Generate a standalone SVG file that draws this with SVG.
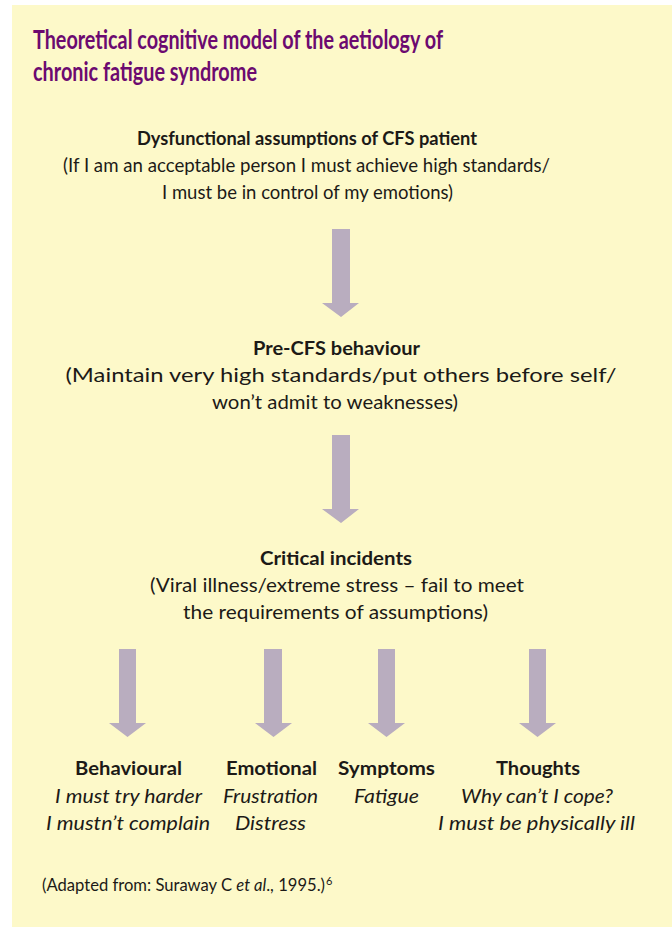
<svg xmlns="http://www.w3.org/2000/svg" width="672" height="927" viewBox="0 0 672 927">
<style>
.t{font-family:Lato,"Open Sans","Liberation Sans",sans-serif;fill:#1c1a17}
.title{font-family:Lato,"Open Sans","Liberation Sans",sans-serif;font-weight:bold;font-size:27px;fill:#6c0a70}
.b{font-weight:bold;font-size:18.5px}
.r{font-size:19px}
.i{font-style:italic;font-size:19px}
.c{text-anchor:middle}
.arr{fill:#b9adbf}
.fn{font-size:16.5px}
</style>
<rect x="12" y="5" width="660" height="922" fill="#fdf9c9"/>
<g id="title">
<text class="title" x="33" y="49" textLength="410" lengthAdjust="spacingAndGlyphs">Theoretical cognitive model of the aetiology of</text>
<text class="title" x="33" y="81" textLength="224" lengthAdjust="spacingAndGlyphs">chronic fatigue syndrome</text>
</g>
<g id="node-assumptions">
<text class="t b c" x="307" y="145" textLength="340" lengthAdjust="spacingAndGlyphs">Dysfunctional assumptions of CFS patient</text>
<text class="t r c" x="306.5" y="172" textLength="487" lengthAdjust="spacingAndGlyphs">(If I am an acceptable person I must achieve high standards/</text>
<text class="t r c" x="307.5" y="199" textLength="291" lengthAdjust="spacingAndGlyphs">I must be in control of my emotions)</text>
</g>
<g id="node-precfs">
<text class="t b c" x="336.5" y="355" textLength="167" lengthAdjust="spacingAndGlyphs">Pre-CFS behaviour</text>
<text class="t r c" x="341" y="382" textLength="551" lengthAdjust="spacingAndGlyphs">(Maintain very high standards/put others before self/</text>
<text class="t r c" x="335" y="409" textLength="246" lengthAdjust="spacingAndGlyphs">won’t admit to weaknesses)</text>
</g>
<g id="node-critical">
<text class="t b c" x="336" y="565" textLength="152" lengthAdjust="spacingAndGlyphs">Critical incidents</text>
<text class="t r c" x="337" y="592" textLength="374" lengthAdjust="spacingAndGlyphs">(Viral illness/extreme stress – fail to meet</text>
<text class="t r c" x="335.5" y="619" textLength="305" lengthAdjust="spacingAndGlyphs">the requirements of assumptions)</text>
</g>
<g id="node-behavioural">
<text class="t b c" x="128.5" y="775" textLength="107" lengthAdjust="spacingAndGlyphs">Behavioural</text>
<text class="t i c" x="128.5" y="803" textLength="147" lengthAdjust="spacingAndGlyphs">I must try harder</text>
<text class="t i c" x="128" y="830" textLength="164" lengthAdjust="spacingAndGlyphs">I mustn’t complain</text>
</g>
<g id="node-emotional">
<text class="t b c" x="271.5" y="775" textLength="91" lengthAdjust="spacingAndGlyphs">Emotional</text>
<text class="t i c" x="270.5" y="803" textLength="95" lengthAdjust="spacingAndGlyphs">Frustration</text>
<text class="t i c" x="270.5" y="830" textLength="71" lengthAdjust="spacingAndGlyphs">Distress</text>
</g>
<g id="node-symptoms">
<text class="t b c" x="386.5" y="775" textLength="97" lengthAdjust="spacingAndGlyphs">Symptoms</text>
<text class="t i c" x="386.5" y="803" textLength="65" lengthAdjust="spacingAndGlyphs">Fatigue</text>
</g>
<g id="node-thoughts">
<text class="t b c" x="538" y="775" textLength="84" lengthAdjust="spacingAndGlyphs">Thoughts</text>
<text class="t i c" x="537" y="803" textLength="152" lengthAdjust="spacingAndGlyphs">Why can’t I cope?</text>
<text class="t i c" x="536.5" y="830" textLength="197" lengthAdjust="spacingAndGlyphs">I must be physically ill</text>
</g>
<g id="connectors">
<polygon class="arr" points="332,229 350,229 350,303 359,303 341,317 322,303 332,303"/>
<polygon class="arr" points="332,435 350,435 350,509 359,509 341,523 322,509 332,509"/>
<polygon class="arr" points="119,649 136,649 136,723 146,723 127.5,737 109,723 119,723"/>
<polygon class="arr" points="264,649 282,649 282,723 292,723 273.5,737 255,723 264,723"/>
<polygon class="arr" points="378,649 395,649 395,723 405,723 386.5,737 368,723 378,723"/>
<polygon class="arr" points="529,649 546,649 546,723 556,723 537.5,737 519,723 529,723"/>
</g>
<g id="footnote">
<text class="t fn" x="42" y="891" textLength="283" lengthAdjust="spacingAndGlyphs">(Adapted from: Suraway C <tspan font-style="italic">et al</tspan>., 1995.)</text>
<text class="t" x="326" y="885" font-size="11">6</text>
</g>
</svg>
